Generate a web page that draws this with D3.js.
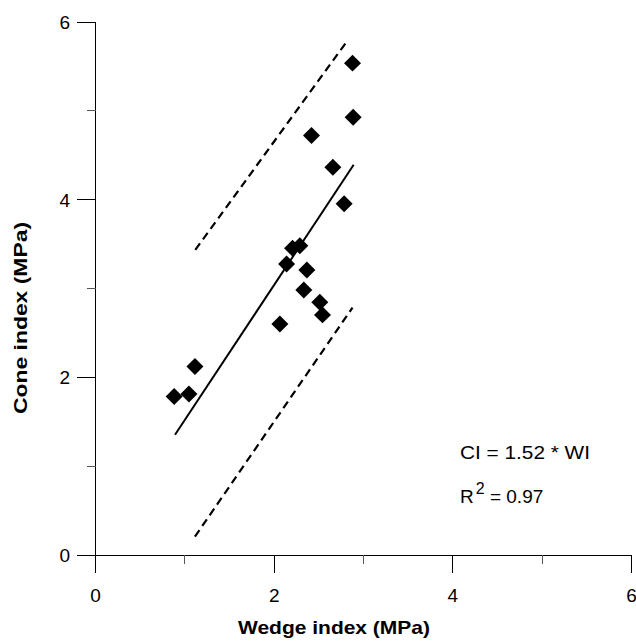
<!DOCTYPE html>
<html><head><meta charset="utf-8">
<script src="https://cdn.jsdelivr.net/npm/d3@7"></script>
<style>body{margin:0;background:#fff}svg{display:block}text{font-family:"Liberation Sans",Arial,sans-serif}</style>
</head><body>
<svg id="c" width="636" height="641"></svg>
<script>
const wedge = [2.877,2.884,2.418,2.657,2.783,2.206,2.287,2.139,2.366,2.332,2.511,2.541,2.064,1.113,0.881,1.046];
const cone  = [5.537,4.929,4.722,4.366,3.953,3.454,3.480,3.277,3.209,2.984,2.846,2.703,2.601,2.121,1.783,1.813];
const fitLine = [[0.89,1.353],[2.89,4.393]];
const upperCI = [[1.117,3.435],[2.828,5.80]];
const lowerCI = [[1.113,0.206],[2.877,2.785]];
const majorTicks = [0,2,4,6];
const minorTicks = [1,3,5];
const eqText = "CI = 1.52 * WI";
const r2Value = "0.97";

const svg = d3.select("#c");
const x = d3.scaleLinear().domain([0,6]).range([95.5,631.5]);
const y = d3.scaleLinear().domain([0,6]).range([555,22]);

const g = svg.append("g").attr("stroke","#000").attr("stroke-width",1).attr("shape-rendering","crispEdges");
g.append("line").attr("x1",77).attr("x2",x(6)).attr("y1",y(0)).attr("y2",y(0));
g.append("line").attr("x1",x(0)).attr("x2",x(0)).attr("y1",y(6)).attr("y2",y(0)+18);
majorTicks.forEach(t=>{
  g.append("line").attr("x1",x(t)).attr("x2",x(t)).attr("y1",y(0)).attr("y2",y(0)+18);
  g.append("line").attr("x1",77).attr("x2",x(0)).attr("y1",y(t)).attr("y2",y(t));
});
minorTicks.forEach(t=>{
  g.append("line").attr("x1",x(t)).attr("x2",x(t)).attr("y1",y(0)).attr("y2",y(0)+9).attr("stroke","#555");
  g.append("line").attr("x1",x(0)-9).attr("x2",x(0)).attr("y1",y(t)).attr("y2",y(t)).attr("stroke","#555");
});
const fs = 19;
svg.selectAll(".xl").data(majorTicks).enter().append("text")
  .attr("x",d=>x(d)).attr("y",602).attr("text-anchor","middle").attr("font-size",fs).text(d=>d);
svg.selectAll(".yl").data(majorTicks).enter().append("text")
  .attr("x",70).attr("y",d=>y(d)+7).attr("text-anchor","end").attr("font-size",fs).text(d=>d);
svg.append("text").attr("x",334).attr("y",634).attr("text-anchor","middle")
  .attr("font-size",19).attr("font-weight","bold").attr("textLength",192).attr("lengthAdjust","spacingAndGlyphs").text("Wedge index (MPa)");
svg.append("text").attr("transform","translate(27,318) rotate(-90)").attr("text-anchor","middle")
  .attr("font-size",19).attr("font-weight","bold").attr("textLength",192).attr("lengthAdjust","spacingAndGlyphs").text("Cone index (MPa)");

const line = d3.line().x(d=>x(d[0])).y(d=>y(d[1]));
svg.append("path").attr("d",line(fitLine)).attr("fill","none").attr("stroke","#000").attr("stroke-width",2);
[upperCI,lowerCI].forEach(l=>{
  svg.append("path").attr("d",line(l)).attr("fill","none").attr("stroke","#000").attr("stroke-width",2.2)
    .attr("stroke-dasharray","8,5");
});
const s = 12;
svg.selectAll(".pt").data(wedge.map((w,i)=>[w,cone[i]])).enter().append("rect")
  .attr("x",-s/2).attr("y",-s/2).attr("width",s).attr("height",s).attr("fill","#000")
  .attr("transform",d=>`translate(${x(d[0])},${y(d[1])}) rotate(45)`);

svg.append("text").attr("x",460).attr("y",459).attr("font-size",fs).attr("textLength",130).attr("lengthAdjust","spacingAndGlyphs").text(eqText);
const r = svg.append("text").attr("x",460).attr("y",503).attr("font-size",fs);
r.append("tspan").text("R");
r.append("tspan").attr("dx",2).attr("dy",-9).attr("font-size",16).text("2");
r.append("tspan").attr("dy",9).text(" = " + r2Value);
</script>
</body></html>
